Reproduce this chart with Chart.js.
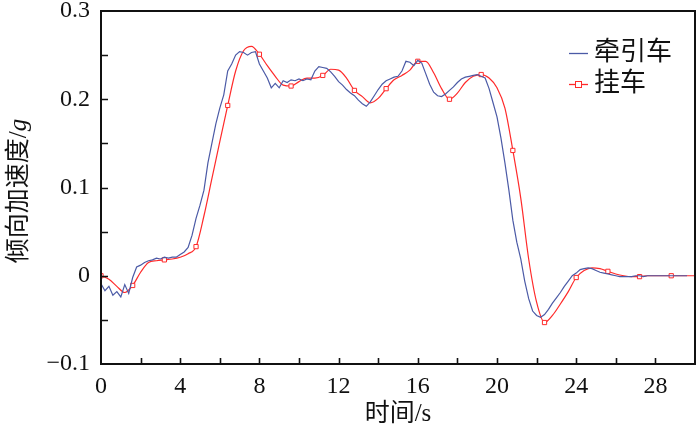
<!DOCTYPE html>
<html>
<head>
<meta charset="utf-8">
<script src="https://cdn.jsdelivr.net/npm/chart.js@4"></script>
<style>
  html, body { margin: 0; padding: 0; background: #fff; }
  #wrap { width: 700px; height: 436px; }
</style>
</head>
<body>
<div id="wrap"><canvas id="accChart" width="700" height="436"></canvas></div>
<script>
// ================= DATA =================
// 牵引车 (tractor), sampled every 0.2 s from t = 0
let tractorStep = 0.2;
let tractorAcc = [
  -0.009,-0.017,-0.012,-0.022,-0.018,-0.024,-0.010,-0.020,-0.002, 0.010,
   0.012, 0.015, 0.017, 0.018, 0.020, 0.019, 0.021, 0.020, 0.021, 0.021,
   0.024, 0.027, 0.032, 0.046, 0.065, 0.080, 0.097, 0.128, 0.150, 0.172,
   0.190, 0.205, 0.232, 0.240, 0.250, 0.254, 0.253, 0.250, 0.253, 0.254,
   0.240, 0.232, 0.224, 0.213, 0.218, 0.213, 0.221, 0.219, 0.222, 0.221,
   0.223, 0.221, 0.223, 0.222, 0.232, 0.237, 0.236, 0.235, 0.231, 0.226,
   0.220, 0.216, 0.211, 0.207, 0.204, 0.199, 0.195, 0.192, 0.197, 0.204,
   0.211, 0.217, 0.221, 0.223, 0.225, 0.226, 0.232, 0.243, 0.242, 0.238,
   0.244, 0.241, 0.229, 0.217, 0.208, 0.204, 0.203, 0.206, 0.210, 0.214,
   0.219, 0.223, 0.225, 0.226, 0.227, 0.228, 0.226, 0.224, 0.212, 0.196,
   0.180, 0.156, 0.128, 0.097, 0.063, 0.038, 0.019,-0.006,-0.026,-0.040,
  -0.045,-0.047,-0.044,-0.038,-0.031,-0.025,-0.019,-0.012,-0.006, 0.000,
   0.003, 0.007, 0.008, 0.009, 0.008, 0.006, 0.004, 0.003, 0.002, 0.001,
   0.000,-0.001,-0.001,-0.001,-0.001, 0.000, 0.000,-0.001, 0.000, 0.000,
   0.000, 0.000, 0.000, 0.000, 0.000, 0.000, 0.000, 0.000, 0.000
];

// 挂车 (trailer), sampled every 0.4 s from t = 0
let trailerStep = 0.4;
let trailerAcc = [
   0.000,-0.004,-0.012,-0.019,-0.011, 0.004, 0.015, 0.017, 0.018, 0.019,
   0.021, 0.025, 0.033, 0.068, 0.110, 0.152, 0.193, 0.232, 0.255, 0.260,
   0.251, 0.238, 0.226, 0.216, 0.215, 0.220, 0.224, 0.224, 0.227, 0.234,
   0.233, 0.224, 0.210, 0.203, 0.196, 0.201, 0.212, 0.222, 0.227, 0.233,
   0.243, 0.243, 0.230, 0.212, 0.200, 0.207, 0.219, 0.226, 0.228, 0.224,
   0.213, 0.190, 0.142, 0.088, 0.019,-0.030,-0.053,-0.045,-0.032,-0.018,
  -0.002, 0.006, 0.009, 0.008, 0.005, 0.002, 0.000,-0.001,-0.001, 0.000,
   0.000, 0.000, 0.000, 0.000, 0.000, 0.000
];
let trailerMarkerEvery = 4;

let seriesNames = ["牵引车", "挂车"];
let xTickLabels = ["0", "4", "8", "12", "16", "20", "24", "28"];
let yTickLabels = ["\u22120.1", "0", "0.1", "0.2", "0.3"];
let xTitle = "时间/s";
let yTitleMain = "倾向加速度/";
let yTitleUnit = "g";

// ================= COLOURS / FONTS =================
let blue = "#4b5aa6";
let red = "#ff2a2a";
let serif = "'Liberation Serif', 'Noto Sans CJK SC', serif";

// ================= BUILD POINTS =================
function toPoints(values, step){
    return values.map((v, i) => ({ x: +(i * step).toFixed(2), y: v }));
}

// no label overflow padding: the plot box is set by layout.padding and afterFit
function fixBox(width, height){
    return s => {
        if(width) s.width = width;
        if(height) s.height = height;
        s.paddingTop = 0;
        s.paddingBottom = 0;
        s.paddingLeft = 0;
        s.paddingRight = 0;
    };
}

// ================= OVERLAY: frame, ticks, titles, legend =================
let overlay = {
    id: "overlay",
    afterDraw(chart){
        let ctx = chart.ctx;
        let a = chart.chartArea;
        let xs = chart.scales.x;
        let ys = chart.scales.y;

        ctx.save();

        // frame
        ctx.strokeStyle = "#111";
        ctx.lineWidth = 2;
        ctx.strokeRect(a.left, a.top, a.right - a.left, a.bottom - a.top);

        // inward ticks
        ctx.lineWidth = 1.6;
        ctx.beginPath();
        for(let t = 2; t < 30; t += 2){
            let px = Math.round(xs.getPixelForValue(t)) + 0.5;
            ctx.moveTo(px, a.bottom);
            ctx.lineTo(px, a.bottom - 6);
        }
        for(let k = 1; k < 8; k++){
            let py = Math.round(ys.getPixelForValue(-0.1 + k * 0.05)) + 0.5;
            ctx.moveTo(a.left, py);
            ctx.lineTo(a.left + 7, py);
        }
        ctx.stroke();

        // x title
        ctx.fillStyle = "#111";
        ctx.font = "25px " + serif;
        ctx.textAlign = "center";
        ctx.textBaseline = "middle";
        ctx.fillText(xTitle, (a.left + a.right) / 2, 414);

        // y title (rotated, italic unit)
        ctx.translate(19, 191);
        ctx.rotate(-Math.PI / 2);
        let mainFont = "25px " + serif;
        let unitFont = "italic 25px " + serif;
        ctx.font = mainFont;
        let w1 = ctx.measureText(yTitleMain).width;
        ctx.font = unitFont;
        let w2 = ctx.measureText(yTitleUnit).width;
        let x0 = -(w1 + w2) / 2;
        ctx.textAlign = "left";
        ctx.font = mainFont;
        ctx.fillText(yTitleMain, x0, 0);
        ctx.font = unitFont;
        ctx.fillText(yTitleUnit, x0 + w1, 0);
        ctx.setTransform(1, 0, 0, 1, 0, 0);

        // legend
        let lx = 569, lw = 19, tx = 594;
        let rows = [53, 84];
        ctx.font = "26px " + serif;
        ctx.textAlign = "left";
        ctx.textBaseline = "middle";

        ctx.lineWidth = 1.3;
        ctx.strokeStyle = blue;
        ctx.beginPath();
        ctx.moveTo(lx, rows[0] + 0.5);
        ctx.lineTo(lx + lw, rows[0] + 0.5);
        ctx.stroke();

        ctx.strokeStyle = red;
        ctx.beginPath();
        ctx.moveTo(lx, rows[1] + 0.5);
        ctx.lineTo(lx + lw, rows[1] + 0.5);
        ctx.stroke();
        ctx.fillStyle = "#fff";
        ctx.fillRect(lx + lw / 2 - 3, rows[1] - 2.5, 6, 6);
        ctx.lineWidth = 1;
        ctx.strokeRect(lx + lw / 2 - 3, rows[1] - 2.5, 6, 6);

        ctx.fillStyle = "#111";
        ctx.fillText(seriesNames[0], tx, rows[0]);
        ctx.fillText(seriesNames[1], tx, rows[1]);

        ctx.restore();
    }
};

// ================= CHART =================
new Chart(document.getElementById("accChart"), {

    type: "line",

    data: {
        datasets: [
            {
                label: seriesNames[0],
                data: toPoints(tractorAcc, tractorStep),
                borderColor: blue,
                borderWidth: 1.2,
                pointRadius: 0,
                tension: 0
            },
            {
                label: seriesNames[1],
                data: toPoints(trailerAcc, trailerStep),
                borderColor: red,
                borderWidth: 1.2,
                cubicInterpolationMode: "monotone",
                pointStyle: "rect",
                pointRadius: c => c.dataIndex % trailerMarkerEvery === 0 ? 3 : 0,
                pointBackgroundColor: "#fff",
                pointBorderColor: red,
                pointBorderWidth: 1
            }
        ]
    },

    options: {
        responsive: false,
        animation: false,
        events: [],
        layout: { padding: { left: 0, right: 2, top: 11, bottom: 0 } },
        plugins: {
            legend: { display: false },
            tooltip: { enabled: false }
        },
        scales: {
            x: {
                type: "linear",
                min: 0,
                max: 30,
                grid: { display: false, drawTicks: false },
                border: { display: false },
                afterFit: fixBox(0, 72),
                ticks: {
                    stepSize: 4,
                    includeBounds: false,
                    autoSkip: false,
                    maxRotation: 0,
                    padding: 8,
                    color: "#111",
                    font: { family: serif, size: 24 },
                    callback: v => xTickLabels[v / 4] ?? ""
                }
            },
            y: {
                min: -0.1,
                max: 0.3,
                grid: { display: false, drawTicks: false },
                border: { display: false },
                afterFit: fixBox(101, 0),
                ticks: {
                    stepSize: 0.1,
                    padding: 11,
                    color: "#111",
                    font: { family: serif, size: 24 },
                    callback: (v, i) => yTickLabels[i] ?? ""
                }
            }
        }
    },

    plugins: [overlay]

});
</script>
</body>
</html>
